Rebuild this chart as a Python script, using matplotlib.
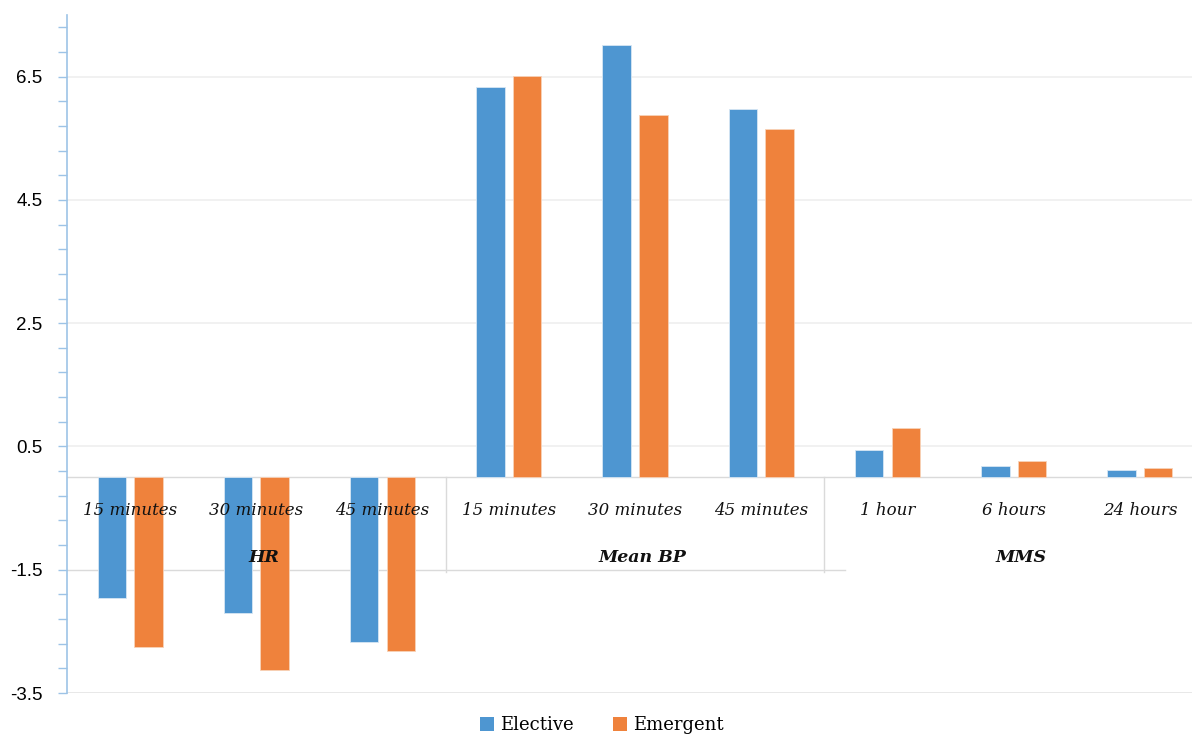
import numpy as np
import matplotlib.pyplot as plt
from matplotlib.patches import Patch

# ---- data -------------------------------------------------------------
categories = ["15 minutes", "30 minutes", "45 minutes",
              "15 minutes", "30 minutes", "45 minutes",
              "1 hour", "6 hours", "24 hours"]
groups = ["HR", "Mean BP", "MMS"]
group_size = 3
elective = [-1.96, -2.21, -2.68, 6.33, 7.01, 5.97, 0.44, 0.19, 0.11]
emergent = [-2.76, -3.12, -2.82, 6.51, 5.88, 5.65, 0.80, 0.26, 0.15]
series_names = ["Elective", "Emergent"]
y_ticks = [-3.5, -1.5, 0.5, 2.5, 4.5, 6.5]
y_tick_labels = ["-3.5", "-1.5", "0.5", "2.5", "4.5", "6.5"]

# ---- styling ----------------------------------------------------------
blue = "#4E96D1"
orange = "#EF823C"
axis_blue = "#9DC3E6"
grid_col = "#EFEFEF"
sep_col = "#DADADA"
serif = ["DejaVu Serif"]

fig = plt.figure(figsize=(11.92, 7.37), dpi=100)
W, H = 1192, 737
left_px, right_px, top_px, bot_px = 67, 1203, 15, 693
ax = fig.add_axes([left_px / W, 1 - bot_px / H,
                   (right_px - left_px) / W, (bot_px - top_px) / H])

n = len(categories)
x = np.arange(n)
bw = 0.225
off = 0.145
ax.bar(x - off, elective, bw, color=blue, edgecolor="#D6E6F4", linewidth=0.6,
       zorder=3, label=series_names[0])
ax.bar(x + off, emergent, bw, color=orange, edgecolor="#F8D2B8", linewidth=0.6,
       zorder=3, label=series_names[1])

ax.set_xlim(-0.5, n - 0.5)
ax.set_ylim(-3.5, 7.5)

# gridlines; the -1.5 line stops at the edge of the group-label box
box_end = (845 - left_px) / (right_px - left_px)
for v in y_ticks:
    if v == -1.5:
        ax.axhline(v, xmin=0, xmax=box_end, color=sep_col, lw=1.0, zorder=1)
    elif v == -3.5:
        ax.axhline(v, color="#E4E4E4", lw=1.2, zorder=1)
    else:
        ax.axhline(v, color=grid_col, lw=1.2, zorder=1)
ax.axhline(0, color=sep_col, lw=1.0, zorder=2)

# separators between the category groups
for g in range(1, len(groups)):
    xs = g * group_size - 0.5
    ax.plot([xs, xs], [0, -1.53], color=sep_col, lw=1.0, zorder=2)

# category and group labels
for i, lab in enumerate(categories):
    ax.text(i, -0.54, lab, ha="center", va="center", fontsize=12,
            style="italic", family=serif, color="#111111", zorder=4)
for g, lab in enumerate(groups):
    cx = g * group_size + (group_size - 1) / 2
    ax.text(cx + 0.06, -1.30, lab, ha="center", va="center", fontsize=12.5,
            style="italic", weight="bold", family=serif, color="#111111",
            zorder=4)

# axes cosmetics
for s in ["top", "right", "bottom"]:
    ax.spines[s].set_visible(False)
ax.spines["left"].set_color(axis_blue)
ax.spines["left"].set_linewidth(1.2)
ax.set_xticks([])
ax.set_yticks(y_ticks)
ax.set_yticklabels(y_tick_labels, family=["Liberation Sans"], fontsize=13.5)
minor = [v for v in np.arange(-3.5, 7.4, 0.4) if min(abs(v - t) for t in y_ticks) > 1e-6]
ax.set_yticks(minor, minor=True)
ax.tick_params(axis="y", which="both", color=axis_blue, length=6.5, width=1.0,
               pad=11, labelcolor="black")

# legend
handles = [Patch(facecolor=blue, label=series_names[0]),
           Patch(facecolor=orange, label=series_names[1])]
fig.legend(handles=handles, loc="center", bbox_to_anchor=(0.505, 0.016),
           ncol=2, frameon=False, handlelength=0.75, handleheight=0.75,
           handletextpad=0.35, columnspacing=2.2,
           prop={"family": serif, "size": 13})

fig.savefig("out.png", dpi=100)
